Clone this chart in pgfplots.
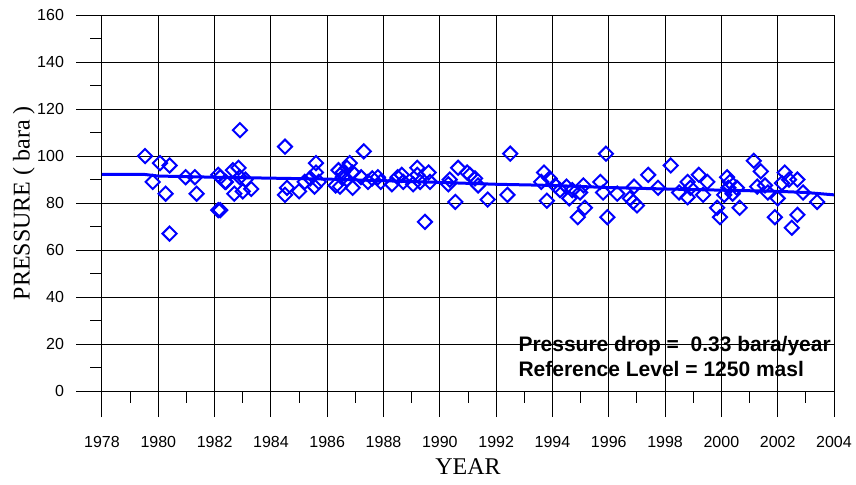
\documentclass[border=0pt]{standalone}
\usepackage{pgfplots}
\pgfplotsset{compat=1.18}
\usepackage{fontspec}
\setmainfont{Liberation Sans}
\newfontfamily\seriffont{Liberation Serif}
\definecolor{ptblue}{RGB}{0,0,255}

\pgfplotstableread{
year p
1979.53 100
1979.80 89
1980.06 97
1980.40 96
1980.26 84
1980.40 67
1980.97 91
1981.30 91
1981.36 84
1982.13 92
1982.13 77
1982.20 77
1982.37 89
1982.90 111
1984.50 104
1982.85 95
1982.65 94
1982.20 91
1982.40 89
1982.70 84
1983.00 85
1983.30 86
1983.10 90
1982.90 91
1984.50 83.5
1984.57 86.5
1985.00 85
1985.20 89
1985.60 97
1985.60 93
1985.55 87
1985.70 89
1985.40 90.5
1986.40 94
1986.30 87.5
1986.55 91
1986.70 95
1987.30 102
1986.80 97
1986.55 93
1986.90 93
1987.20 91
1986.90 86.5
1986.45 87
1986.70 90
1987.60 90.5
1987.80 91
1987.90 89
1987.45 89
1988.30 88
1988.65 92
1988.70 89
1988.50 91
1989.20 95
1989.20 92
1989.30 89
1989.05 88
1989.60 93
1989.65 89
1989.47 72
1990.30 88
1990.35 90
1990.65 95
1990.55 80.5
1990.97 93
1992.50 101
1991.07 92
1991.25 90.5
1991.36 87.5
1991.70 81.5
1992.40 83.5
1993.70 93
1993.60 89
1993.80 81
1993.90 90.5
1994.10 87.5
1994.27 85.5
1994.50 87
1994.70 85.5
1995.10 87.5
1994.60 82
1995.15 78
1994.90 74
1995.90 101
1994.98 84.5
1995.70 89
1995.80 84.5
1995.95 74
1996.30 84
1996.75 82
1996.87 80.5
1997.00 79
1996.90 87
1997.40 92
1997.75 86.5
1998.20 96
1998.50 84.5
1998.80 89
1998.90 86.5
1998.80 82.5
1999.20 92
1999.35 83.5
1999.50 89
1999.85 78
1999.95 74
2000.20 91
2000.30 89
2000.25 86.5
2000.10 83.5
2000.55 86.5
2000.40 84
2000.65 78
2001.15 98
2001.40 93.5
2001.27 87
2001.55 87.5
2001.65 84.5
2001.90 74
2002.00 82
2002.25 93
2002.40 90
2002.15 88.5
2002.70 90
2002.70 75
2002.50 69.5
2002.90 84.5
2003.40 80.5
}\pressure

\pgfplotstableread{
year p
1978.0 92.2
1979.5 92.2
1980.0 91.5
1982.0 91.0
1984.0 90.6
1986.0 90.2
1988.0 89.5
1990.0 88.8
1992.0 88.0
1994.0 87.5
1996.0 86.6
1998.0 86.0
2000.0 85.5
2002.0 85.0
2003.0 84.5
2004.0 83.5
}\trend

\begin{document}
\begin{tikzpicture}
\begin{axis}[
    at={(0,0)}, anchor=south west,
    scale only axis,
    width=366pt, height=201pt,
    xmin=1978, xmax=2004,
    ymin=-11, ymax=160,
    axis x line*=bottom,
    axis y line*=left,
    axis line style={black, line width=0.5pt, -},
    x axis line style={draw=none},
    xtick={1978,1980,...,2004},
    ytick={0,20,...,160},
    minor y tick num=1,
    ytick align=outside,
    xtick align=inside,
    major tick length=13pt,
    minor tick length=6pt,
    tick style={black, line width=0.5pt},
    xtick style={draw=none},
    grid=major,
    major grid style={black, line width=0.5pt},
    /pgf/number format/1000 sep={},
    /pgf/number format/assume math mode=true,
    xticklabel style={font=\fontsize{8}{9}\selectfont, anchor=base, yshift=-15.25pt},
    yticklabel style={font=\fontsize{8}{9}\selectfont, xshift=-2.5pt},
    xlabel={YEAR},
    xlabel style={font=\seriffont\fontsize{12}{14}\selectfont,
        at={(axis description cs:0.5,0)}, anchor=center, yshift=-25pt},
    ylabel={PRESSURE ( bara )},
    ylabel style={font=\seriffont\fontsize{12}{14}\selectfont,
        at={(axis description cs:-0.1066,0.532)}, anchor=center},
    clip=false,
]
\pgfplotsinvokeforeach{1979,1981,...,2003}{
    \draw[black, line width=0.5pt] (axis cs:#1,0) -- (axis cs:#1,-5.1);
}
\addplot[ptblue, line width=1.5pt, no marks] table[x=year, y=p] {\trend};
\addplot[only marks, mark=square, mark size=2.5pt,
    mark options={ptblue, line width=1pt, rotate=45}] table[x=year, y=p] {\pressure};
\node[anchor=west, align=left, inner xsep=0pt, font=\bfseries\fontsize{10.5}{12.5}\selectfont]
    at (axis cs:1992.78,14.9) {Pressure drop = ~0.33 bara/year\\Reference Level = 1250 masl};
\end{axis}
\pgfresetboundingbox
\path (-51pt,-33.5pt) rectangle (377pt,208.5pt);
\end{tikzpicture}
\end{document}
